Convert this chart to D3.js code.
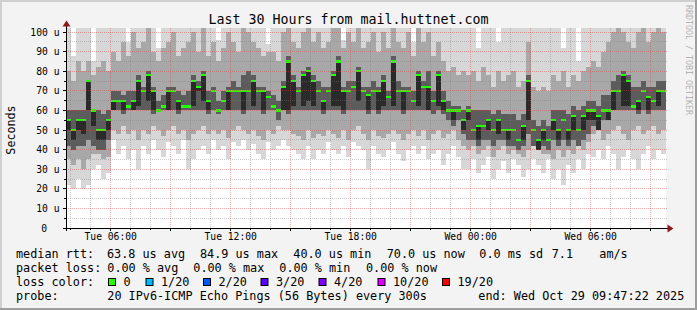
<!DOCTYPE html>
<html><head><meta charset="utf-8">
<script src="https://cdn.jsdelivr.net/npm/d3@7"></script>
<style>body{margin:0;background:#f3f3f3}svg{display:block}</style>
</head><body><svg id="c" width="697" height="310"></svg>
<script>
// ---- data (values in microseconds, 15-minute steps over the last 30 hours) ----
const yTickValues = [0,10,20,30,40,50,60,70,80,90,100];
const xTickLabels = ["Tue 06:00","Tue 12:00","Tue 18:00","Wed 00:00","Wed 06:00"];
const lossLabels = ["0","1/20","2/20","3/20","4/20","10/20","19/20"];
const lossColors = ["#26ff00","#00b8ff","#0059ff","#5e00ff","#7e00ff","#dd00ff","#ff0000"];

const median = [55,50,55,55,75,60,50,50,55,65,65,65,62,65,75,70,78,70,60,62,70,70,65,62,
 62,75,72,78,65,70,60,65,70,70,70,70,70,75,70,70,67,62,60,72,85,75,70,78,
 80,75,70,65,70,78,85,70,70,72,80,70,68,70,70,75,67,85,70,70,70,65,78,72,
 72,65,78,65,60,60,60,55,60,50,52,52,55,50,55,50,50,50,45,52,75,50,45,50,
 45,55,50,55,50,57,50,57,60,60,57,60,60,70,70,78,75,62,65,70,67,65,70,70];
const ping10 = [50,45,50,48,60,52,45,45,50,
 60,65,60,62,60,62,70,65,60,60,62,60,70,60,62,
 62,62,70,65,60,70,60,65,60,70,70,60,70,62,70,60,67,62,60,60,60,62,70,62,
 65,62,70,60,70,62,62,60,70,72,65,70,60,70,60,62,67,62,70,60,70,65,62,72,
 60,65,62,60,60,55,60,50,
 55,50,45,52,50,50,48,50,45,50,45,45,55,50,40,45,
 45,50,45,55,45,50,50,50,55,
 55,50,60,55,60,70,62,62,62,60,70,60,65,62,70];
const ping7 = [42,40,42,42,45,42,40,40,45,
 60,60,58,60,60,60,60,60,58,60,60,60,60,58,60,
 60,60,60,60,58,60,58,60,60,60,60,58,60,60,60,58,60,60,55,60,58,60,60,60,
 60,60,60,58,60,60,60,58,60,60,60,60,58,60,58,60,60,60,60,58,60,60,60,60,
 60,58,60,58,55,52,55,48,
 45,45,42,45,45,42,45,45,42,42,40,42,48,42,40,42,
 40,45,42,45,42,45,42,45,48,
 52,50,55,55,60,60,60,60,60,58,60,58,60,60,60];
const ping14 = [60,60,60,60,75,60,60,58,60,
 70,70,68,70,70,78,72,80,72,65,68,72,72,70,68,
 70,78,75,80,70,72,65,70,72,75,72,78,80,78,72,72,70,68,65,75,88,78,72,80,
 82,78,75,72,72,80,88,72,75,75,82,72,72,75,72,78,70,88,75,72,72,70,80,75,
 80,70,80,70,65,62,62,60,
 62,60,60,60,60,58,60,58,58,58,55,58,78,55,52,55,
 52,60,60,60,58,62,60,62,65,
 65,62,68,68,75,78,80,78,72,72,75,72,72,75,75];
const ping4 = [35,32,35,30,35,38,38,35,36,
 50,48,52,48,50,45,50,48,52,50,47,50,52,48,50,
 45,48,50,52,48,50,48,50,46,50,52,50,48,50,47,45,50,48,52,50,50,48,47,45,
 50,46,48,47,50,48,46,50,45,50,52,48,45,50,47,46,48,50,48,45,48,50,47,50,
 45,48,50,46,48,50,45,42,
 40,42,38,40,42,36,40,42,38,40,38,36,40,42,40,38,
 38,35,40,36,40,38,42,40,44,
 48,50,45,48,50,52,48,45,50,52,48,50,52,48,50];
const ping17 = [80,75,85,80,85,78,82,85,80,
 90,85,95,88,100,92,95,105,90,85,92,95,100,88,92,
 95,100,90,105,88,95,85,92,100,95,90,105,100,95,92,88,90,90,85,100,105,95,92,100,
 105,95,100,92,95,105,110,92,100,95,105,92,95,100,90,100,92,110,95,92,100,88,105,95,
 100,88,95,85,80,82,78,80,
 78,80,75,82,78,72,80,75,78,80,72,75,95,72,70,72,
 70,78,75,80,72,78,75,80,82,
 85,82,90,95,100,105,100,95,92,100,105,95,100,105,100];
const ping1 = [22,20,25,20,22,30,32,25,28,
 45,38,42,35,40,30,42,38,45,40,36,44,42,38,45,
 30,35,40,42,38,45,40,42,35,44,42,45,40,43,38,35,44,40,42,45,42,40,38,35,
 42,35,40,38,44,40,38,42,36,44,42,40,30,42,38,36,40,44,38,34,40,42,38,42,
 35,38,40,32,38,42,36,30,
 30,35,28,32,36,25,30,34,28,35,32,26,30,35,32,28,
 35,25,30,22,32,28,35,30,38,
 36,40,35,42,38,30,36,40,35,30,38,42,35,40,38];
const ping20 = [110,88,110,110,110,85,110,110,110,
 110,110,110,95,110,110,110,110,110,92,110,110,110,110,110,
 110,110,110,110,110,110,96,110,110,110,110,110,110,110,110,110,94,110,110,110,110,110,110,110,
 110,110,110,110,110,110,110,96,110,110,110,110,110,110,110,110,110,110,110,110,110,95,110,110,
 110,110,110,110,110,110,110,110,
 110,110,92,110,110,110,95,110,110,110,110,110,110,110,110,110,
 110,110,110,92,110,110,85,110,110,
 110,110,110,110,110,110,110,110,110,110,110,110,110,110,110];

const legendRtt = ["63.8 us avg","84.9 us max","40.0 us min","70.0 us now","0.0 ms sd","7.1","am/s"];
const legendLoss = ["0.00 % avg","0.00 % max","0.00 % min","0.00 % now"];

// ---- drawing ----
const MONO = "DejaVu Sans Mono";
const endT = Date.UTC(2025,9,29,9,47,22);
const startT = endT - 30*3600*1000;
const STEP = 15*60*1000;
const N = median.length;
const x = d3.scaleUtc().domain([startT,endT]).range([66,666]);
const y = d3.scaleLinear().domain([0,200/1.96]).range([228,28]);
const tAt = i => new Date(startT + i*STEP);

const svg = d3.select("#c");
svg.append("rect").attr("width",697).attr("height",310).attr("fill","#f3f3f3");
svg.append("path").attr("d","M0,1H697M1,0V310").attr("stroke","#cfcfcf").attr("stroke-width",2);
svg.append("path").attr("d","M0,309H697M696,0V310").attr("stroke","#9e9e9e").attr("stroke-width",2);

svg.append("defs").append("clipPath").attr("id","pc").append("rect")
  .attr("x",66).attr("y",28).attr("width",600).attr("height",200);
svg.append("rect").attr("x",66).attr("y",28).attr("width",600).attr("height",200).attr("fill","#fff");

const plot = svg.append("g").attr("clip-path","url(#pc)").attr("shape-rendering","crispEdges");
const layers = [[ping1,ping20,"#d7d7d7"],[ping4,ping17,"#a8a8a8"],[ping7,ping14,"#5c5c5c"],[ping10,median,"#2a2a2a"]];
layers.forEach(([lo,hi,col])=>{
  plot.append("g").selectAll("rect").data(d3.range(N)).join("rect")
    .attr("x",i=>x(tAt(i))).attr("width",i=>x(tAt(i+1))-x(tAt(i)))
    .attr("y",i=>y(hi[i])).attr("height",i=>Math.max(0,y(lo[i])-y(hi[i])))
    .attr("fill",col);
});
plot.append("g").selectAll("rect").data(d3.range(N)).join("rect")
  .attr("x",i=>x(tAt(i))).attr("width",i=>x(tAt(i+1))-x(tAt(i)))
  .attr("y",i=>y(median[i])-1).attr("height",2.2).attr("fill",lossColors[0]);

// grid
const grid = svg.append("g");
const hours = d3.utcHour.every(1).range(new Date(startT), new Date(endT));
hours.forEach(h=>{
  const px = Math.floor(x(h))+0.5;
  const major = h.getUTCHours()%3===0;
  grid.append("line").attr("x1",px).attr("x2",px).attr("y1",28).attr("y2",228)
    .attr("stroke",major?"rgba(228,60,60,0.42)":"rgba(120,120,120,0.38)")
    .attr("stroke-dasharray","1,1");
  grid.append("line").attr("x1",px).attr("x2",px).attr("y1",228).attr("y2",major?231:230).attr("stroke","#000");
});
d3.range(5,101,5).forEach(v=>{
  const py = Math.floor(y(v))+0.5;
  const major = v%10===0;
  grid.append("line").attr("x1",66).attr("x2",668).attr("y1",py).attr("y2",py)
    .attr("stroke",major?"rgba(228,60,60,0.42)":"rgba(120,120,120,0.38)")
    .attr("stroke-dasharray","1,1");
  grid.append("line").attr("x1",major?63:64).attr("x2",66).attr("y1",py).attr("y2",py).attr("stroke","#000");
});

// axes lines + arrows
svg.append("line").attr("x1",63).attr("x2",670).attr("y1",228.5).attr("y2",228.5).attr("stroke","#000");
svg.append("line").attr("x1",66.5).attr("x2",66.5).attr("y1",231).attr("y2",25).attr("stroke","#000");
svg.append("path").attr("d","M667.5,224.5L673.5,228.5L667.5,232.5Z").attr("fill","#8b1a1a");
svg.append("path").attr("d","M62.5,26.5L66.5,20.5L70.5,26.5Z").attr("fill","#8b1a1a");

// axis labels
const labelTimes = d3.utcHour.every(6).range(new Date(startT), new Date(endT));
const fmt = d3.utcFormat("%a %H:%M");
const xa = svg.append("g").attr("transform","translate(0,228)")
  .call(d3.axisBottom(x).tickValues(labelTimes).tickFormat((d,i)=>xTickLabels[i] || fmt(d)).tickSize(0).tickPadding(5));
xa.select(".domain").remove();
xa.selectAll("text").attr("font-family",MONO).attr("font-size","9.7px").attr("fill","#000");

const ya = svg.append("g").attr("transform","translate(66.5,0)")
  .call(d3.axisLeft(y).tickValues(yTickValues).tickFormat(d=>d? d+" u":"0").tickSize(0).tickPadding(7));
ya.select(".domain").remove();
ya.selectAll("text").attr("font-family",MONO).attr("font-size","9.7px").attr("fill","#000")
  .filter(d=>d===0).attr("x",-19.5);

// title etc
svg.append("text").attr("x",348.5).attr("y",24).attr("text-anchor","middle")
  .attr("font-family",MONO).attr("font-size","13.3px").text("Last 30 Hours from mail.huttnet.com");
svg.append("text").attr("transform","translate(15,130) rotate(-90)").attr("text-anchor","middle")
  .attr("font-family",MONO).attr("font-size","11.7px").text("Seconds");
svg.append("text").attr("transform","translate(685.5,5) rotate(90)")
  .attr("font-family",MONO).attr("font-size","8.3px").attr("fill","#b3b3b3").text("RRDTOOL / TOBI OETIKER");

// legend
const L = svg.append("g").attr("font-family",MONO).attr("font-size","11.8px").attr("fill","#000");
const put = (tx,px,py)=>L.append("text").attr("x",px).attr("y",py).attr("xml:space","preserve").text(tx);
put("median rtt:",16,258);
const rttX = [107,200,293.3,386.7,479.3,551.7,599.3];
legendRtt.forEach((s,i)=>put(s,rttX[i],258));
put("packet loss:",16,272);
const lossX = [107.3,193.3,279.3,366];
legendLoss.forEach((s,i)=>put(s,lossX[i],272));
put("loss color:",16,286);
const boxX = [108.5,146,203.5,261,319,378,442.5];
lossLabels.forEach((s,i)=>{
  L.append("rect").attr("x",boxX[i]).attr("y",278.5).attr("width",7).attr("height",7)
    .attr("fill",lossColors[i]).attr("stroke","#000").attr("stroke-width",1);
  put(s,boxX[i]+15,286);
});
put("probe:",16,300);
put("20 IPv6-ICMP Echo Pings (56 Bytes) every 300s",107.3,300);
put("end: Wed Oct 29 09:47:22 2025",478.3,300);
</script></body></html>
